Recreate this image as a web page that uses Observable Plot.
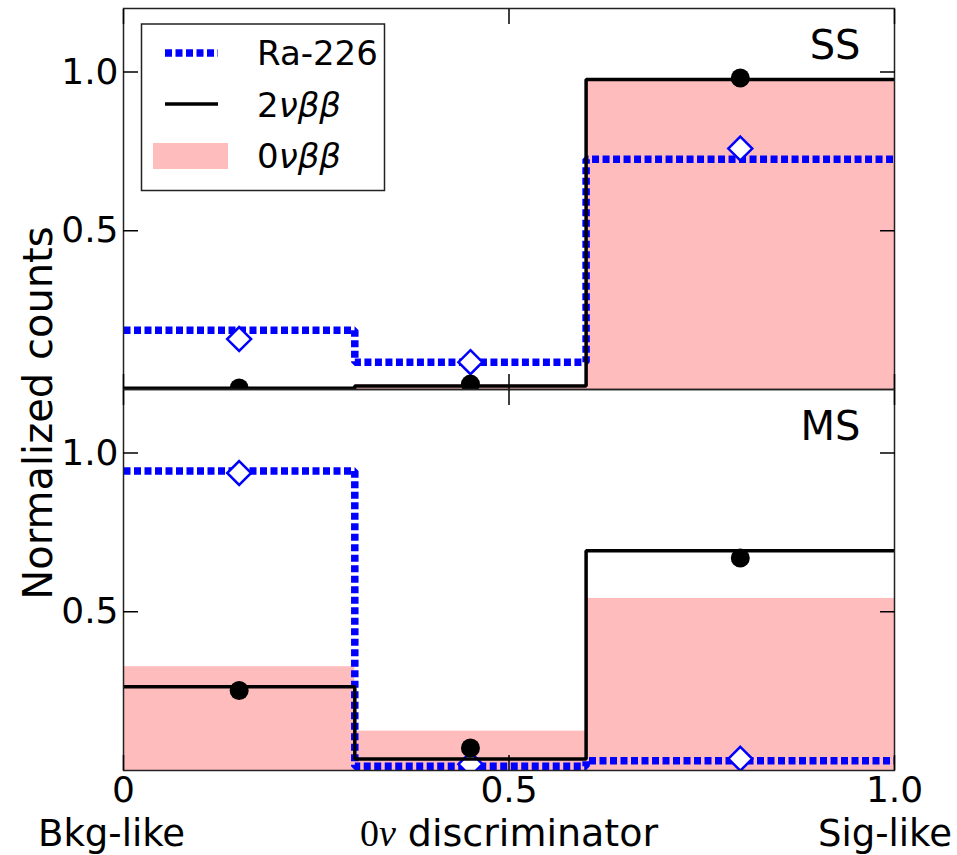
<!DOCTYPE html>
<html>
<head>
<meta charset="utf-8">
<script src="https://cdn.jsdelivr.net/npm/d3@7"></script>
<script src="https://cdn.jsdelivr.net/npm/@observablehq/plot@0.6"></script>
<style>
  body { margin: 0; background: #fff; }
  svg { display: block; }
</style>
</head>
<body>
<div id="chart"></div>
<script>
// Panels: single-site (SS) and multi-site (MS) events
const panels = ["SS", "MS"];
const binEdges = [0, 0.3, 0.6, 1.0];
const binCenters = [0.15, 0.45, 0.8];
const xTicks = [0, 0.5, 1.0];
const yTicks = [0.5, 1.0];

// SS panel
const ra226HistSS = [0.187, 0.086, 0.725];
const ra226PointsSS = [0.159, 0.086, 0.759];
const twoNuHistSS = [0.004, 0.011, 0.976];
const twoNuPointsSS = [0.005, 0.017, 0.981];
const zeroNuHistSS = [0.003, 0.014, 0.976];

// MS panel
const ra226HistMS = [0.943, 0.013, 0.031];
const ra226PointsMS = [0.937, 0.02, 0.037];
const twoNuHistMS = [0.264, 0.036, 0.692];
const twoNuPointsMS = [0.252, 0.071, 0.669];
const zeroNuHistMS = [0.327, 0.124, 0.542];

const series = {
  SS: {ra: ra226HistSS, raPt: ra226PointsSS, two: twoNuHistSS, twoPt: twoNuPointsSS, zero: zeroNuHistSS},
  MS: {ra: ra226HistMS, raPt: ra226PointsMS, two: twoNuHistMS, twoPt: twoNuPointsMS, zero: zeroNuHistMS}
};

// one row per panel and bin
const bins = panels.flatMap(panel => binCenters.map((xc, i) => ({
  panel, xc, x1: binEdges[i], x2: binEdges[i + 1],
  ra: series[panel].ra[i], raPt: series[panel].raPt[i],
  two: series[panel].two[i], twoPt: series[panel].twoPt[i],
  zero: series[panel].zero[i]
})));

// step-line vertices at the bin edges (last edge repeats the last bin)
const steps = key => panels.flatMap(panel => binEdges.map((x, i) => ({
  panel, x, y: series[panel][key][Math.min(i, binCenters.length - 1)]
})));

const BLUE = "#0000ff", PINK = "#ffbcbc";
const DASH = "7,3.5";
const tickOpts = {ticks: yTicks, tickSize: -15, tickFormat: () => "", label: null, strokeWidth: 1.5};
const xTickOpts = {ticks: xTicks, tickSize: -15, tickFormat: () => "", label: null, strokeWidth: 1.5, facetAnchor: null};

const plot = Plot.plot({
  width: 957,
  height: 855,
  marginLeft: 123,
  marginRight: 63,
  marginTop: 7,
  marginBottom: 85,
  style: {fontFamily: "DejaVu Sans", background: "white", color: "black"},
  x: {domain: [0, 1]},
  y: {domain: [0, 1.2]},
  fy: {domain: panels, axis: null, padding: 0},
  marks: [
    Plot.rectY(bins, {x1: "x1", x2: "x2", y: "zero", fy: "panel", fill: PINK}),
    Plot.line(steps("ra"), {x: "x", y: "y", fy: "panel", curve: "step-after",
      stroke: BLUE, strokeWidth: 7.5, strokeDasharray: DASH,
      strokeLinecap: "butt", strokeLinejoin: "miter", clip: true}),
    Plot.dot(bins, {x: "xc", y: "raPt", fy: "panel", symbol: "diamond2", r: 10.8,
      fill: "white", stroke: BLUE, strokeWidth: 2.5, clip: true}),
    Plot.line(steps("two"), {x: "x", y: "y", fy: "panel", curve: "step-after",
      stroke: "black", strokeWidth: 3.5, strokeLinecap: "butt", strokeLinejoin: "miter", clip: true}),
    Plot.dot(bins, {x: "xc", y: "twoPt", fy: "panel", r: 9.5, fill: "black", clip: true}),
    Plot.frame({stroke: "#222", strokeWidth: 1.5}),
    Plot.text(panels, {fy: d => d, text: d => d, frameAnchor: "top-right", textAnchor: "end",
      lineAnchor: "top", dx: -34, dy: 22, fontSize: 40}),
    // inward ticks on all four sides of each panel
    Plot.axisY({...tickOpts, anchor: "left"}),
    Plot.axisY({...tickOpts, anchor: "right"}),
    Plot.axisX({...xTickOpts, anchor: "bottom"}),
    Plot.axisX({...xTickOpts, anchor: "top"}),
    // tick labels
    Plot.axisY({anchor: "left", ticks: yTicks, tickSize: 0, tickPadding: 5, tickFormat: d => d.toFixed(1),
      label: null, fontSize: 36}),
    Plot.axisX({anchor: "bottom", ticks: xTicks, tickSize: 0, tickPadding: 6,
      tickFormat: d => d === 0 ? "0" : d.toFixed(1), label: null, fontSize: 36})
  ]
});

const svg = d3.select(plot);

// axis titles
svg.append("text")
  .attr("transform", "translate(52,413) rotate(-90)")
  .attr("text-anchor", "middle")
  .attr("font-family", "DejaVu Sans")
  .attr("font-size", 40)
  .attr("fill", "black")
  .text("Normalized counts");

const xTitle = svg.append("text")
  .attr("x", 509).attr("y", 846)
  .attr("text-anchor", "middle")
  .attr("font-family", "DejaVu Sans")
  .attr("font-size", 38)
  .attr("fill", "black");
xTitle.append("tspan").attr("font-family", "Liberation Serif").text("0");
xTitle.append("tspan").attr("font-family", "Liberation Serif").attr("font-style", "italic").text("ν");
xTitle.append("tspan").text(" discriminator");

svg.append("text")
  .attr("x", 38).attr("y", 846).attr("text-anchor", "start")
  .attr("font-family", "DejaVu Sans").attr("font-size", 37).attr("fill", "black")
  .text("Bkg-like");
svg.append("text")
  .attr("x", 952).attr("y", 846).attr("text-anchor", "end")
  .attr("font-family", "DejaVu Sans").attr("font-size", 37).attr("fill", "black")
  .text("Sig-like");

// legend
const legend = svg.append("g")
  .attr("font-family", "DejaVu Sans").attr("font-size", 34).attr("text-anchor", "start").attr("fill", "black");
legend.append("rect")
  .attr("x", 141.5).attr("y", 24).attr("width", 243).attr("height", 166.5)
  .attr("fill", "white").attr("stroke", "#222").attr("stroke-width", 1.5);
legend.append("line")
  .attr("x1", 165).attr("x2", 218).attr("y1", 53).attr("y2", 53)
  .attr("stroke", BLUE).attr("stroke-width", 7.5).attr("stroke-dasharray", DASH);
legend.append("line")
  .attr("x1", 165).attr("x2", 218).attr("y1", 104).attr("y2", 104)
  .attr("stroke", "black").attr("stroke-width", 3.5);
legend.append("rect")
  .attr("x", 153).attr("y", 143).attr("width", 75).attr("height", 26)
  .attr("fill", PINK);
legend.append("text").attr("x", 257).attr("y", 65).text("Ra-226");
const l2 = legend.append("text").attr("x", 257).attr("y", 117);
l2.append("tspan").text("2");
l2.append("tspan").attr("font-style", "italic").text("νββ");
const l3 = legend.append("text").attr("x", 257).attr("y", 168);
l3.append("tspan").text("0");
l3.append("tspan").attr("font-style", "italic").text("νββ");

document.getElementById("chart").appendChild(plot);
</script>
</body>
</html>
